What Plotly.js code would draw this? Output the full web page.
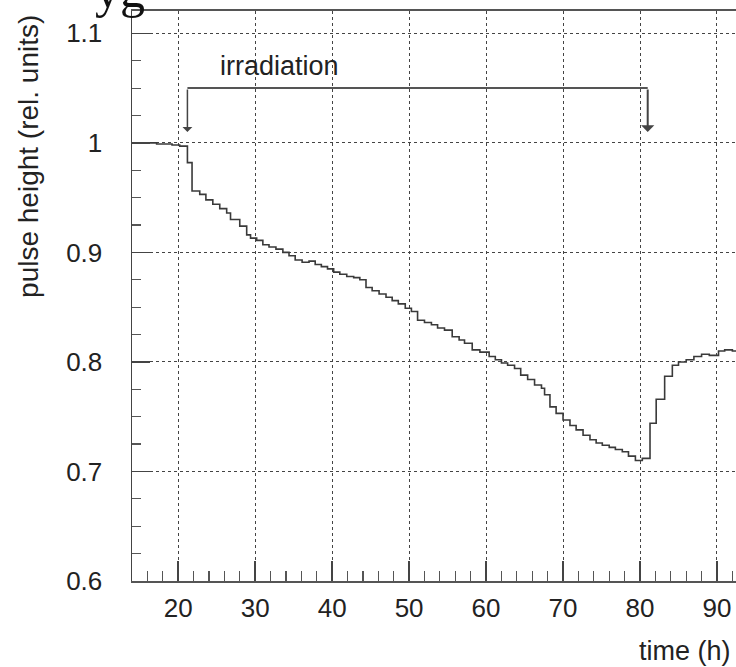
<!DOCTYPE html>
<html>
<head>
<meta charset="utf-8">
<script src="https://cdn.plot.ly/plotly-3.0.1.min.js"></script>
<style>
html,body{margin:0;padding:0;background:#fff;}
#chart{width:736px;height:667px;}
</style>
</head>
<body>
<div id="chart"></div>
<script>
// left edges of each histogram bin (hours) and pulse height in that bin
var binStart = [13.2,14.2,15.2,16.2,17.2,18.2,19.2,20.2,21.2,21.8,
  22.8,23.6,24.5,25.4,26.3,26.8,28.0,28.9,29.4,30.2,
  31.0,31.8,32.7,33.6,34.4,35.2,36.1,37.0,37.8,38.6,
  39.4,40.2,41.0,41.9,42.8,43.6,44.4,45.2,46.1,47.0,
  47.8,48.6,49.5,50.3,51.1,52.0,52.9,53.7,54.6,55.6,
  56.5,57.2,58.2,59.2,60.4,61.2,62.0,62.8,63.7,64.5,
  65.4,66.3,67.2,67.6,68.3,69.1,70.0,70.9,71.7,72.6,
  73.5,74.3,75.1,76.0,76.8,77.7,78.5,79.4,80.3,81.3,
  82.1,83.2,84.2,85.0,86.0,87.0,88.0,89.0,90.2,91.0,92.0,92.6];
var pulseHeight = [1.000,1.000,1.000,1.000,0.999,0.999,0.998,0.997,0.982,0.956,
  0.953,0.948,0.944,0.940,0.936,0.930,0.924,0.916,0.913,0.911,
  0.907,0.905,0.903,0.900,0.897,0.893,0.891,0.892,0.889,0.887,
  0.885,0.882,0.880,0.878,0.877,0.875,0.868,0.865,0.862,0.859,
  0.856,0.853,0.849,0.846,0.838,0.836,0.834,0.831,0.829,0.823,
  0.820,0.817,0.811,0.809,0.805,0.802,0.799,0.797,0.794,0.788,
  0.784,0.779,0.776,0.770,0.759,0.753,0.747,0.742,0.738,0.733,
  0.729,0.726,0.724,0.722,0.720,0.718,0.714,0.710,0.712,0.744,
  0.766,0.787,0.797,0.800,0.802,0.805,0.807,0.806,0.810,0.811,0.810,0.810];

// irradiation period marker
var irrStart = 21.2;
var irrEnd = 81.0;
var bracketY = 1.05;
var arrowTipY = 1.01;
var irrLabel = "irradiation";

var xTicks = [20,30,40,50,60,70,80,90];
var yTicks = [0.6,0.7,0.8,0.9,1.0,1.1];

var fontFam = "'Liberation Sans', Arial, Helvetica, sans-serif";

var trace = {
  x: binStart, y: pulseHeight, type: 'scatter', mode: 'lines',
  line: {shape: 'hv', color: '#3a3a3a', width: 1.6},
  hoverinfo: 'skip'
};

var layout = {
  width: 736, height: 667,
  margin: {l: 132, r: 0, t: 11, b: 86},
  paper_bgcolor: '#fff', plot_bgcolor: '#fff',
  showlegend: false,
  font: {family: fontFam, size: 26, color: '#222'},
  xaxis: {
    range: [14.0, 92.47],
    tickvals: xTicks,
    ticktext: xTicks.map(String),
    ticks: 'inside', ticklen: 20, tickwidth: 1.5, tickcolor: '#444',
    minor: {dtick: 2, tick0: 0, ticks: 'inside', ticklen: 10, tickwidth: 1.2, tickcolor: '#555', showgrid: false},
    showline: true, linecolor: '#555', linewidth: 2, mirror: true,
    showgrid: true, gridcolor: '#444', gridwidth: 1, griddash: 'dot',
    zeroline: false,
    tickfont: {family: fontFam, size: 26, color: '#222'},
    ticklabelstandoff: 3
  },
  yaxis: {
    range: [0.6, 1.1204],
    tickvals: yTicks,
    ticktext: ['0.6','0.7','0.8','0.9','1','1.1'],
    ticks: 'inside', ticklen: 18, tickwidth: 1.5, tickcolor: '#444',
    minor: {dtick: 0.025, tick0: 0, ticks: 'inside', ticklen: 9, tickwidth: 1.2, tickcolor: '#555', showgrid: false},
    showline: true, linecolor: '#444', linewidth: 1.5, mirror: true,
    showgrid: true, gridcolor: '#444', gridwidth: 1, griddash: 'dot',
    zeroline: false,
    tickfont: {family: fontFam, size: 26, color: '#222'},
    ticklabelstandoff: 23
  },
  shapes: [
    {type: 'line', xref: 'x', yref: 'y', x0: irrStart, x1: irrEnd, y0: bracketY, y1: bracketY,
     line: {color: '#555', width: 2}}
  ],
  annotations: [
    {xref: 'x', yref: 'y', x: irrStart, y: arrowTipY, ax: irrStart, ay: bracketY, axref: 'x', ayref: 'y',
     text: '', showarrow: true, arrowhead: 1, arrowsize: 1.1, arrowwidth: 1.5, arrowcolor: '#444'},
    {xref: 'x', yref: 'y', x: irrEnd, y: arrowTipY, ax: irrEnd, ay: bracketY, axref: 'x', ayref: 'y',
     text: '', showarrow: true, arrowhead: 1, arrowsize: 1.1, arrowwidth: 2, arrowcolor: '#444'},
    {xref: 'x', yref: 'y', x: 33.1, y: 1.07, text: irrLabel, showarrow: false,
     xanchor: 'center', yanchor: 'middle', font: {family: fontFam, size: 27, color: '#222'}},
    {xref: 'paper', yref: 'paper', x: -0.1705, y: 0.744, text: 'pulse height (rel. units)', textangle: -90,
     showarrow: false, xanchor: 'center', yanchor: 'middle', font: {family: fontFam, size: 28, color: '#222'}},
    {xref: 'paper', yref: 'paper', x: 0.995, y: -0.1228, text: 'time (h)', showarrow: false,
     xanchor: 'right', yanchor: 'middle', font: {family: fontFam, size: 27, color: '#222'}},
    {xref: 'paper', yref: 'paper', x: -0.065, y: 0.984, text: 'yg', showarrow: false,
     xanchor: 'left', yanchor: 'bottom', font: {family: "'Liberation Serif', 'DejaVu Serif', serif", size: 50, color: '#111'}}
  ]
};

Plotly.newPlot('chart', [trace], layout, {staticPlot: true, displayModeBar: false});
</script>
</body>
</html>
